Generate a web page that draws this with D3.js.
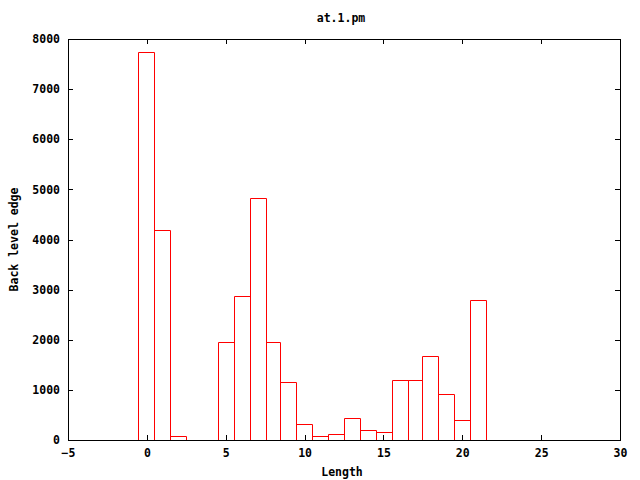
<!DOCTYPE html>
<html>
<head>
<meta charset="utf-8">
<script src="https://cdn.jsdelivr.net/npm/d3@7"></script>
<style>
  html, body { margin: 0; padding: 0; background: #fff; }
  svg { display: block; }
  text { font-family: "DejaVu Sans Mono", "Liberation Mono", monospace; font-weight: bold; font-size: 11.5px; fill: #000; }
</style>
</head>
<body>
<svg id="chart" width="640" height="480"></svg>
<script>
const title = "at.1.pm";
const xLabel = "Length";
const yLabel = "Back level edge";
const lengths = [0, 1, 2, 5, 6, 7, 8, 9, 10, 11, 12, 13, 14, 15, 16, 17, 18, 19, 20, 21];
const counts  = [7740, 4170, 60, 1970, 2880, 4810, 1970, 1170, 330, 95, 115, 450, 215, 155, 1210, 1210, 1690, 910, 410, 2780];
const xTicks = [-5, 0, 5, 10, 15, 20, 25, 30];
const yTicks = [0, 1000, 2000, 3000, 4000, 5000, 6000, 7000, 8000];

const svg = d3.select("#chart");
const L = 68, R = 620, T = 39, B = 440;
const x = d3.scaleLinear().domain([-5, 30]).range([L, R]);
const y = d3.scaleLinear().domain([0, 8000]).range([B, T]);
// snap 1px strokes onto even pixel columns/rows
const snap = v => Math.round(v / 2) * 2 + 0.5;

// bars (open boxes, gnuplot style)
svg.append("g")
  .selectAll("path")
  .data(lengths.map((l, i) => ({ l, v: counts[i] })))
  .join("path")
  .attr("d", d => {
    const x0 = snap(x(d.l - 0.5));
    const x1 = snap(x(d.l + 0.5));
    const y0 = snap(y(0));
    const y1 = snap(y(d.v));
    return `M${x0},${y0}V${y1}H${x1}V${y0}Z`;
  })
  .attr("fill", "none")
  .attr("stroke", "#ff0000")
  .attr("stroke-width", 1);

function styleAxis(g) {
  g.select(".domain").remove();
  g.selectAll("line").attr("stroke", "#000").attr("shape-rendering", "crispEdges");
  g.selectAll("text").attr("font-family", null).attr("font-size", null);
}

svg.append("g").attr("transform", `translate(0,${B})`)
  .call(d3.axisBottom(x).tickValues(xTicks).tickSize(-5).tickPadding(9).tickFormat(d3.format("d")))
  .call(styleAxis);
svg.append("g").attr("transform", `translate(0,${T})`)
  .call(d3.axisTop(x).tickValues(xTicks).tickSize(-5).tickFormat(""))
  .call(styleAxis);
svg.append("g").attr("transform", `translate(${L},0)`)
  .call(d3.axisLeft(y).tickValues(yTicks).tickSize(-5).tickPadding(8).tickFormat(d3.format("d")))
  .call(styleAxis);
svg.append("g").attr("transform", `translate(${R},0)`)
  .call(d3.axisRight(y).tickValues(yTicks).tickSize(-5).tickFormat(""))
  .call(styleAxis);

// border
svg.append("rect")
  .attr("x", L + 0.5).attr("y", T + 0.5)
  .attr("width", R - L).attr("height", B - T)
  .attr("fill", "none").attr("stroke", "#000").attr("stroke-width", 1)
  .attr("shape-rendering", "crispEdges");

svg.append("text").attr("x", 341).attr("y", 22).attr("text-anchor", "middle").text(title);
svg.append("text").attr("x", 342).attr("y", 476).attr("text-anchor", "middle").text(xLabel);
svg.append("text").attr("transform", `translate(18,${(T + B) / 2}) rotate(-90)`).attr("text-anchor", "middle").text(yLabel);
</script>
</body>
</html>
